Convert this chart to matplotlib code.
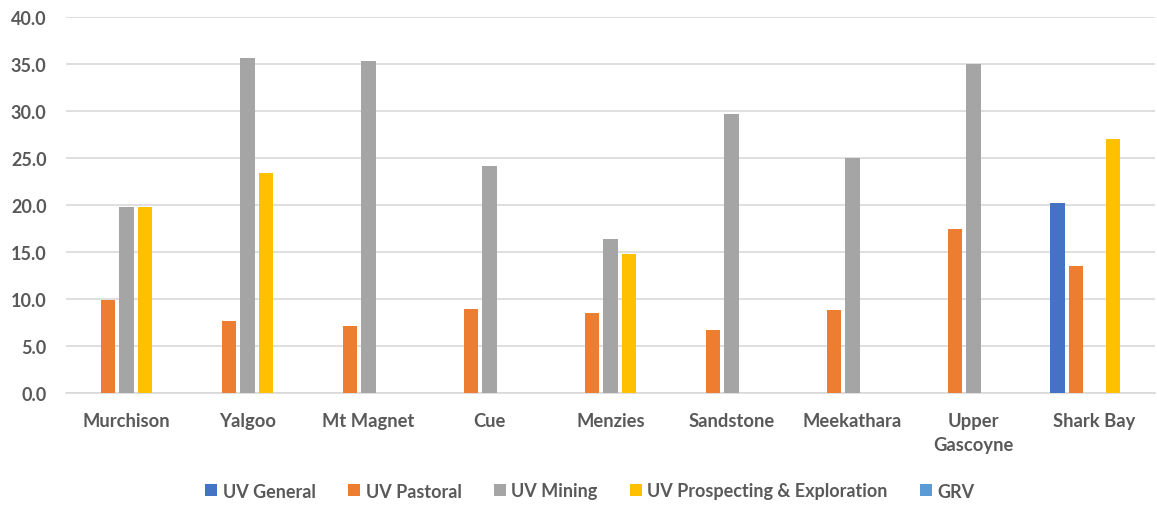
import matplotlib.pyplot as plt
import numpy as np

# District data
districts = ["Murchison", "Yalgoo", "Mt Magnet", "Cue", "Menzies", "Sandstone",
             "Meekathara", "Upper\nGascoyne", "Shark Bay"]
uv_general = [0, 0, 0, 0, 0, 0, 0, 0, 20.2]
uv_pastoral = [9.9, 7.7, 7.1, 8.9, 8.5, 6.7, 8.8, 17.4, 13.5]
uv_mining = [19.8, 35.6, 35.3, 24.2, 16.4, 29.7, 25.0, 35.0, 0]
uv_prospecting = [19.8, 23.4, 0, 0, 14.8, 0, 0, 0, 27.0]
grv = [0, 0, 0, 0, 0, 0, 0, 0, 0]

series = [
    ("UV General", uv_general, "#4472C4"),
    ("UV Pastoral", uv_pastoral, "#ED7D31"),
    ("UV Mining", uv_mining, "#A5A5A5"),
    ("UV Prospecting & Exploration", uv_prospecting, "#FFC000"),
    ("GRV", grv, "#5B9BD5"),
]

plt.rcParams['font.family'] = ['Lato', 'DejaVu Sans']
text_color = '#595959'

fig = plt.figure(figsize=(11.57, 5.06), dpi=100)
ax = fig.add_axes([66 / 1157, 1 - 394 / 506, 1089 / 1157, 376 / 506])

x = np.arange(len(districts))
step = 0.153
width = 0.118
for i, (name, vals, color) in enumerate(series):
    ax.bar(x + (i - 2) * step, vals, width, color=color, label=name, zorder=3)

ax.set_xlim(-0.5, len(districts) - 0.5)
ax.set_ylim(0, 40)
ax.set_yticks(np.arange(0, 41, 5))
ax.set_yticklabels([f"{v:.1f}" for v in np.arange(0, 41, 5)])
ax.set_xticks(x)
ax.set_xticklabels(districts, linespacing=1.45)

ax.yaxis.grid(True, color='#D9D9D9', linewidth=1.2, zorder=0)
for side in ['top', 'right', 'left']:
    ax.spines[side].set_visible(False)
ax.spines['bottom'].set_color('#D9D9D9')
ax.spines['bottom'].set_linewidth(1.2)
ax.tick_params(axis='both', length=0, colors=text_color)
ax.tick_params(axis='x', pad=14, labelsize=13.2)
ax.tick_params(axis='y', pad=14, labelsize=13)
for lbl in ax.get_xticklabels() + ax.get_yticklabels():
    lbl.set_fontweight('bold')

leg = fig.legend(loc='center', bbox_to_anchor=(0.51, 1 - 492 / 506), ncol=5,
                 frameon=False, handlelength=0.66, handleheight=0.66,
                 handletextpad=0.3, columnspacing=1.8,
                 prop={'size': 13, 'weight': 'bold'})
for t in leg.get_texts():
    t.set_color(text_color)

fig.savefig("out.png", dpi=100)
